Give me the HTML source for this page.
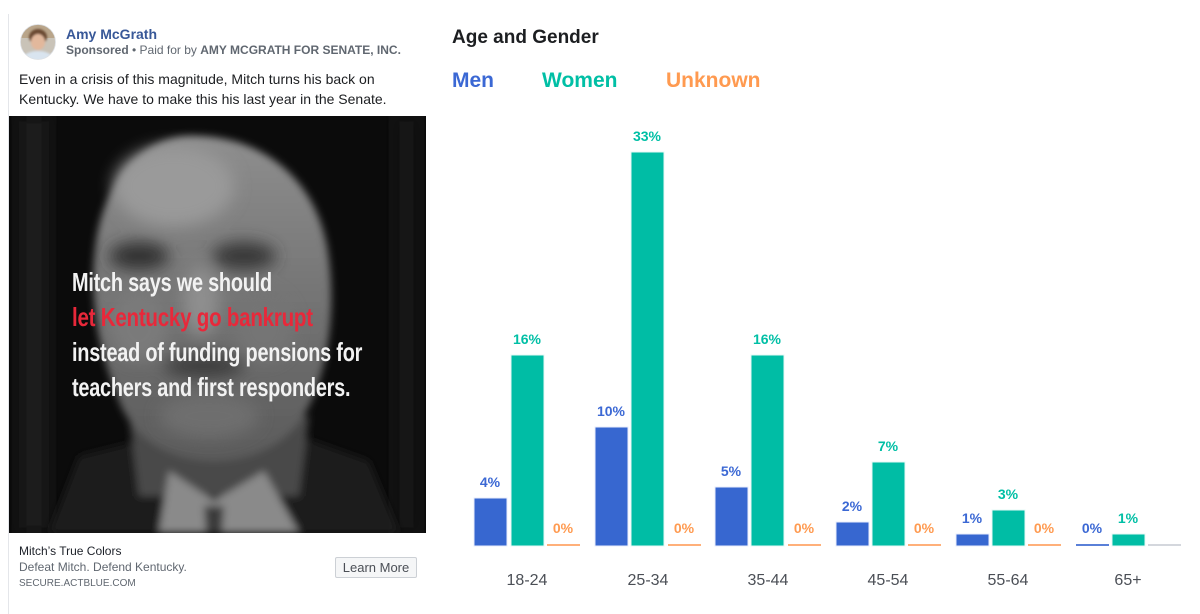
<!DOCTYPE html>
<html><head><meta charset="utf-8">
<style>
html,body{margin:0;padding:0;background:#fff;}
body{width:1200px;height:604px;position:relative;overflow:hidden;font-family:"Liberation Sans",Arial,sans-serif;}
.a{position:absolute;white-space:nowrap;}
.card{position:absolute;left:8px;top:14px;width:418px;height:600px;border-left:1px solid #e4e6ea;}
.imgtxt{position:absolute;left:72px;font-family:"Liberation Sans",sans-serif;font-weight:bold;font-size:26px;color:#f2f2f2;transform-origin:0 0;transform:scaleX(0.765);letter-spacing:-0.3px;white-space:nowrap;}
.lbl{position:absolute;font-weight:bold;font-size:14px;text-align:center;width:60px;}
.age{position:absolute;font-size:16px;color:#4b4f56;text-align:center;width:80px;top:572px;}
</style></head>
<body>
<div class="card"></div>
<!-- avatar -->
<svg class="a" style="left:20px;top:24px" width="36" height="36" viewBox="0 0 36 36">
<defs><clipPath id="c"><circle cx="18" cy="18" r="17.5"/></clipPath><filter id="fb"><feGaussianBlur stdDeviation="1"/></filter></defs>
<g clip-path="url(#c)">
<rect width="36" height="36" fill="#c9c3b8"/>
<rect x="0" y="0" width="36" height="14" fill="#b9a58a"/>
<g filter="url(#fb)">
<ellipse cx="18" cy="13" rx="9" ry="8" fill="#6b4a33"/>
<ellipse cx="18" cy="18" rx="7" ry="8" fill="#e2b89c"/>
<ellipse cx="18" cy="36" rx="16" ry="9" fill="#d9e4ef"/>
</g>
</g>
<circle cx="18" cy="18" r="17.5" fill="none" stroke="#dde0e4" stroke-width="0.8"/>
</svg>
<div class="a" style="left:66px;top:26px;font-size:14px;font-weight:bold;color:#385898;">Amy McGrath</div>
<div class="a" style="left:66px;top:43px;font-size:12px;color:#606770;"><b>Sponsored</b> • Paid for by <b>AMY MCGRATH FOR SENATE, INC.</b></div>
<div class="a" style="left:19px;top:69px;font-size:14px;line-height:20px;color:#1c1e21;">Even in a crisis of this magnitude, Mitch turns his back on<br>Kentucky. We have to make this his last year in the Senate.</div>

<!-- image -->
<svg class="a" style="left:9px;top:116px" width="417" height="417" viewBox="0 0 417 417">
<defs>
<filter id="b8" x="-30%" y="-30%" width="160%" height="160%"><feGaussianBlur stdDeviation="8"/></filter>
<filter id="b4" x="-30%" y="-30%" width="160%" height="160%"><feGaussianBlur stdDeviation="4"/></filter>
<linearGradient id="hg" x1="0" y1="0" x2="0" y2="1"><stop offset="0" stop-color="#8e8e8e"/><stop offset="0.5" stop-color="#747474"/><stop offset="1" stop-color="#5a5a5a"/></linearGradient>
</defs>
<rect width="417" height="417" fill="#0b0b0b"/>
<rect x="10" y="0" width="30" height="417" fill="#1a1a1a" filter="url(#b8)"/>
<rect x="385" y="0" width="25" height="417" fill="#161616" filter="url(#b8)"/>
<g filter="url(#b4)">
<!-- suit -->
<path d="M40,417 L70,340 L150,320 L290,320 L360,345 L390,417 Z" fill="#1e1e1e"/>
<!-- neck -->
<path d="M120,300 L300,300 L290,380 L130,380 Z" fill="#4a4a4a"/>
<!-- shirt -->
<path d="M150,417 L160,355 L205,385 L255,355 L290,417 Z" fill="#8a8a8a"/>
<path d="M195,390 L215,390 L213,417 L197,417 Z" fill="#3a3a3a"/>
<!-- head -->
<path d="M180,20 C250,18 305,60 318,130 C328,190 320,250 300,290 C280,330 240,345 205,345 C165,345 125,325 110,285 C92,240 80,190 86,135 C92,70 130,22 180,20 Z" fill="url(#hg)"/>
</g>
<g filter="url(#b8)">
<ellipse cx="165" cy="70" rx="60" ry="40" fill="#9a9a9a"/>
<ellipse cx="130" cy="140" rx="30" ry="14" fill="#333"/>
<ellipse cx="235" cy="140" rx="32" ry="14" fill="#383838"/>
<ellipse cx="192" cy="185" rx="18" ry="35" fill="#8e8e8e"/>
<ellipse cx="130" cy="210" rx="30" ry="35" fill="#7a7a7a"/>
<ellipse cx="255" cy="210" rx="30" ry="35" fill="#747474"/>
<ellipse cx="195" cy="250" rx="40" ry="12" fill="#3e3e3e"/>
<ellipse cx="200" cy="300" rx="50" ry="22" fill="#6e6e6e"/>
</g>
</svg>
<div class="imgtxt" style="top:267px;">Mitch says we should</div>
<div class="imgtxt" style="top:302px;color:#e8283a;transform:scaleX(0.79);">let Kentucky go bankrupt</div>
<div class="imgtxt" style="top:337px;">instead of funding pensions for</div>
<div class="imgtxt" style="top:372px;">teachers and first responders.</div>

<div class="a" style="left:19px;top:544px;font-size:12px;color:#1d2129;">Mitch’s True Colors</div>
<div class="a" style="left:19px;top:560px;font-size:12px;color:#606770;">Defeat Mitch. Defend Kentucky.</div>
<div class="a" style="left:19px;top:578px;font-size:10px;color:#606770;">SECURE.ACTBLUE.COM</div>
<div class="a" style="left:335px;top:557px;width:80px;height:19px;border:1px solid #ccd0d5;border-radius:2px;background:#f5f6f7;font-size:13px;color:#4b4f56;text-align:center;line-height:19px;">Learn More</div>

<!-- chart -->
<div class="a" style="left:452px;top:27px;font-size:19px;font-weight:bold;color:#1c1e21;">Age and Gender</div>
<div class="a" style="left:452px;top:69px;font-size:21px;font-weight:bold;color:#3b68d4;">Men</div>
<div class="a" style="left:542px;top:69px;font-size:21px;font-weight:bold;color:#00bfa5;">Women</div>
<div class="a" style="left:666px;top:69px;font-size:21px;font-weight:bold;color:#ff9a50;">Unknown</div>

<svg class="a" style="left:0;top:0" width="1200" height="604" viewBox="0 0 1200 604">
<g stroke="#e8eefb" stroke-width="1">
<rect x="474" y="498" width="33" height="48" fill="#3767d0"/>
<rect x="595" y="427" width="33" height="119" fill="#3767d0"/>
<rect x="715" y="487" width="33" height="59" fill="#3767d0"/>
<rect x="836" y="522" width="33" height="24" fill="#3767d0"/>
<rect x="956" y="534" width="33" height="12" fill="#3767d0"/>
</g>
<g stroke="#e6f8f5" stroke-width="1">
<rect x="511" y="355" width="33" height="191" fill="#00bda5"/>
<rect x="631" y="152" width="33" height="394" fill="#00bda5"/>
<rect x="751" y="355" width="33" height="191" fill="#00bda5"/>
<rect x="872" y="462" width="33" height="84" fill="#00bda5"/>
<rect x="992" y="510" width="33" height="36" fill="#00bda5"/>
<rect x="1112" y="534" width="33" height="12" fill="#00bda5"/>
</g>
<rect x="1076" y="544" width="33" height="2" fill="#5a80d8"/>
<g fill="#ffb07a">
<rect x="547" y="544" width="33" height="2"/>
<rect x="668" y="544" width="33" height="2"/>
<rect x="788" y="544" width="33" height="2"/>
<rect x="908" y="544" width="33" height="2"/>
<rect x="1028" y="544" width="33" height="2"/>
</g>
<rect x="1148" y="544" width="33" height="2" fill="#d4d7dd"/>
</svg>

<!-- value labels -->
<div class="lbl" style="left:460px;top:474px;color:#3b68d4;">4%</div>
<div class="lbl" style="left:497px;top:331px;color:#00bfa5;">16%</div>
<div class="lbl" style="left:533px;top:520px;color:#ff9a50;">0%</div>

<div class="lbl" style="left:581px;top:403px;color:#3b68d4;">10%</div>
<div class="lbl" style="left:617px;top:128px;color:#00bfa5;">33%</div>
<div class="lbl" style="left:654px;top:520px;color:#ff9a50;">0%</div>

<div class="lbl" style="left:701px;top:463px;color:#3b68d4;">5%</div>
<div class="lbl" style="left:737px;top:331px;color:#00bfa5;">16%</div>
<div class="lbl" style="left:774px;top:520px;color:#ff9a50;">0%</div>

<div class="lbl" style="left:822px;top:498px;color:#3b68d4;">2%</div>
<div class="lbl" style="left:858px;top:438px;color:#00bfa5;">7%</div>
<div class="lbl" style="left:894px;top:520px;color:#ff9a50;">0%</div>

<div class="lbl" style="left:942px;top:510px;color:#3b68d4;">1%</div>
<div class="lbl" style="left:978px;top:486px;color:#00bfa5;">3%</div>
<div class="lbl" style="left:1014px;top:520px;color:#ff9a50;">0%</div>

<div class="lbl" style="left:1062px;top:520px;color:#3b68d4;">0%</div>
<div class="lbl" style="left:1098px;top:510px;color:#00bfa5;">1%</div>

<!-- age labels -->
<div class="age" style="left:487px;">18-24</div>
<div class="age" style="left:608px;">25-34</div>
<div class="age" style="left:728px;">35-44</div>
<div class="age" style="left:848px;">45-54</div>
<div class="age" style="left:968px;">55-64</div>
<div class="age" style="left:1088px;">65+</div>
</body></html>
